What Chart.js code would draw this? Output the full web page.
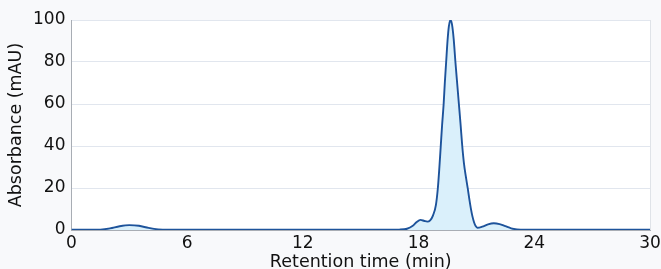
<!DOCTYPE html>
<html>
<head>
<meta charset="utf-8">
<script src="https://cdn.jsdelivr.net/npm/chart.js@4/dist/chart.umd.min.js"></script>
<style>
  html, body { margin: 0; padding: 0; background: #f8f9fb; }
  #wrap { width: 661px; height: 269px; }
</style>
</head>
<body>
<div id="wrap"><canvas id="chromChart" width="661" height="269"></canvas></div>
<script>
// retention times (min) and absorbance (mAU)
const retentionTimes = [0, 0.5, 1.0, 1.5, 2.0, 2.5, 3.0, 3.5, 4.0, 4.5, 5.0, 6, 8, 10, 12, 14, 16,
  17.0, 17.4, 17.7, 17.9, 18.1, 18.3, 18.45, 18.6, 18.75, 18.9, 19.0, 19.08, 19.15, 19.22, 19.3, 19.36,
  19.43, 19.5, 19.57, 19.65, 19.73, 19.82, 19.91, 20.0, 20.09, 20.18, 20.26, 20.35, 20.45, 20.55,
  20.63, 20.71, 20.79, 20.88, 20.96, 21.05, 21.3, 21.6, 21.9, 22.2, 22.5, 22.8, 23.1, 23.5, 25, 27, 30];
const absorbance = [0.1, 0.1, 0.1, 0.2, 0.8, 1.8, 2.3, 2.0, 1.0, 0.3, 0.1, 0.1, 0.1, 0.1, 0.1, 0.1, 0.1,
  0.2, 0.6, 2.0, 3.8, 4.8, 4.3, 4.0, 4.6, 7, 12, 20, 30, 40, 50, 60, 70,
  80, 90, 97, 100, 98, 91, 80, 70, 60, 50, 40.5, 32, 25.5, 19.8,
  14.8, 10.3, 6.6, 3.6, 1.9, 1.1, 1.6, 2.7, 3.2, 2.8, 1.8, 0.8, 0.3, 0.1, 0.1, 0.1, 0.1];
const xTicks = [0, 6, 12, 18, 24, 30];
const yTicks = [0, 20, 40, 60, 80, 100];

const points = retentionTimes.map((t, i) => ({ x: t, y: absorbance[i] }));

// white plot area with a thin right edge
const plotBackground = {
  id: 'plotBackground',
  beforeDraw(chart) {
    const { ctx, chartArea: a } = chart;
    ctx.save();
    ctx.fillStyle = '#ffffff';
    ctx.fillRect(a.left, a.top, a.right - a.left, a.bottom - a.top);
    ctx.strokeStyle = '#dfe3e8';
    ctx.lineWidth = 1;
    ctx.beginPath();
    ctx.moveTo(a.right + 0.5, a.top);
    ctx.lineTo(a.right + 0.5, a.bottom);
    ctx.stroke();
    ctx.restore();
  }
};

Chart.defaults.font.family = "'DejaVu Sans', sans-serif";
Chart.defaults.color = '#111111';

const ctx = document.getElementById('chromChart').getContext('2d');
new Chart(ctx, {
  type: 'line',
  data: {
    datasets: [{
      data: points,
      borderColor: '#1d539b',
      backgroundColor: '#daf0fb',
      borderWidth: 1.9,
      pointRadius: 0,
      fill: 'origin',
      cubicInterpolationMode: 'monotone'
    }]
  },
  options: {
    responsive: false,
    animation: false,
    layout: { padding: { top: 20, right: 0, left: 4, bottom: 0 } },
    plugins: { legend: { display: false }, tooltip: { enabled: false } },
    scales: {
      x: {
        type: 'linear',
        min: 0, max: 30,
        afterBuildTicks: (axis) => { axis.ticks = xTicks.map(v => ({ value: v })); },
        afterFit: (axis) => {
          axis.height = 39;
          axis.paddingLeft = 0;
          axis.paddingRight = 11;
        },
        ticks: { font: { size: 17, lineHeight: 1.0 }, padding: 5, maxRotation: 0 },
        grid: { display: false, drawTicks: false },
        border: { color: '#a8adb4', width: 1 },
        title: { display: true, text: 'Retention time (min)', font: { size: 17.5, lineHeight: 0.7 }, padding: { top: 3, bottom: 0 } }
      },
      y: {
        min: 0, max: 100,
        afterBuildTicks: (axis) => { axis.ticks = yTicks.map(v => ({ value: v })); },
        ticks: { font: { size: 17 }, padding: 6 },
        grid: { color: '#e1e6ee', drawTicks: false },
        border: { color: '#a8adb4', width: 1 },
        title: { display: true, text: 'Absorbance (mAU)', font: { size: 17.5 }, padding: { top: 2, bottom: 0 } }
      }
    }
  },
  plugins: [plotBackground]
});
</script>
</body>
</html>
